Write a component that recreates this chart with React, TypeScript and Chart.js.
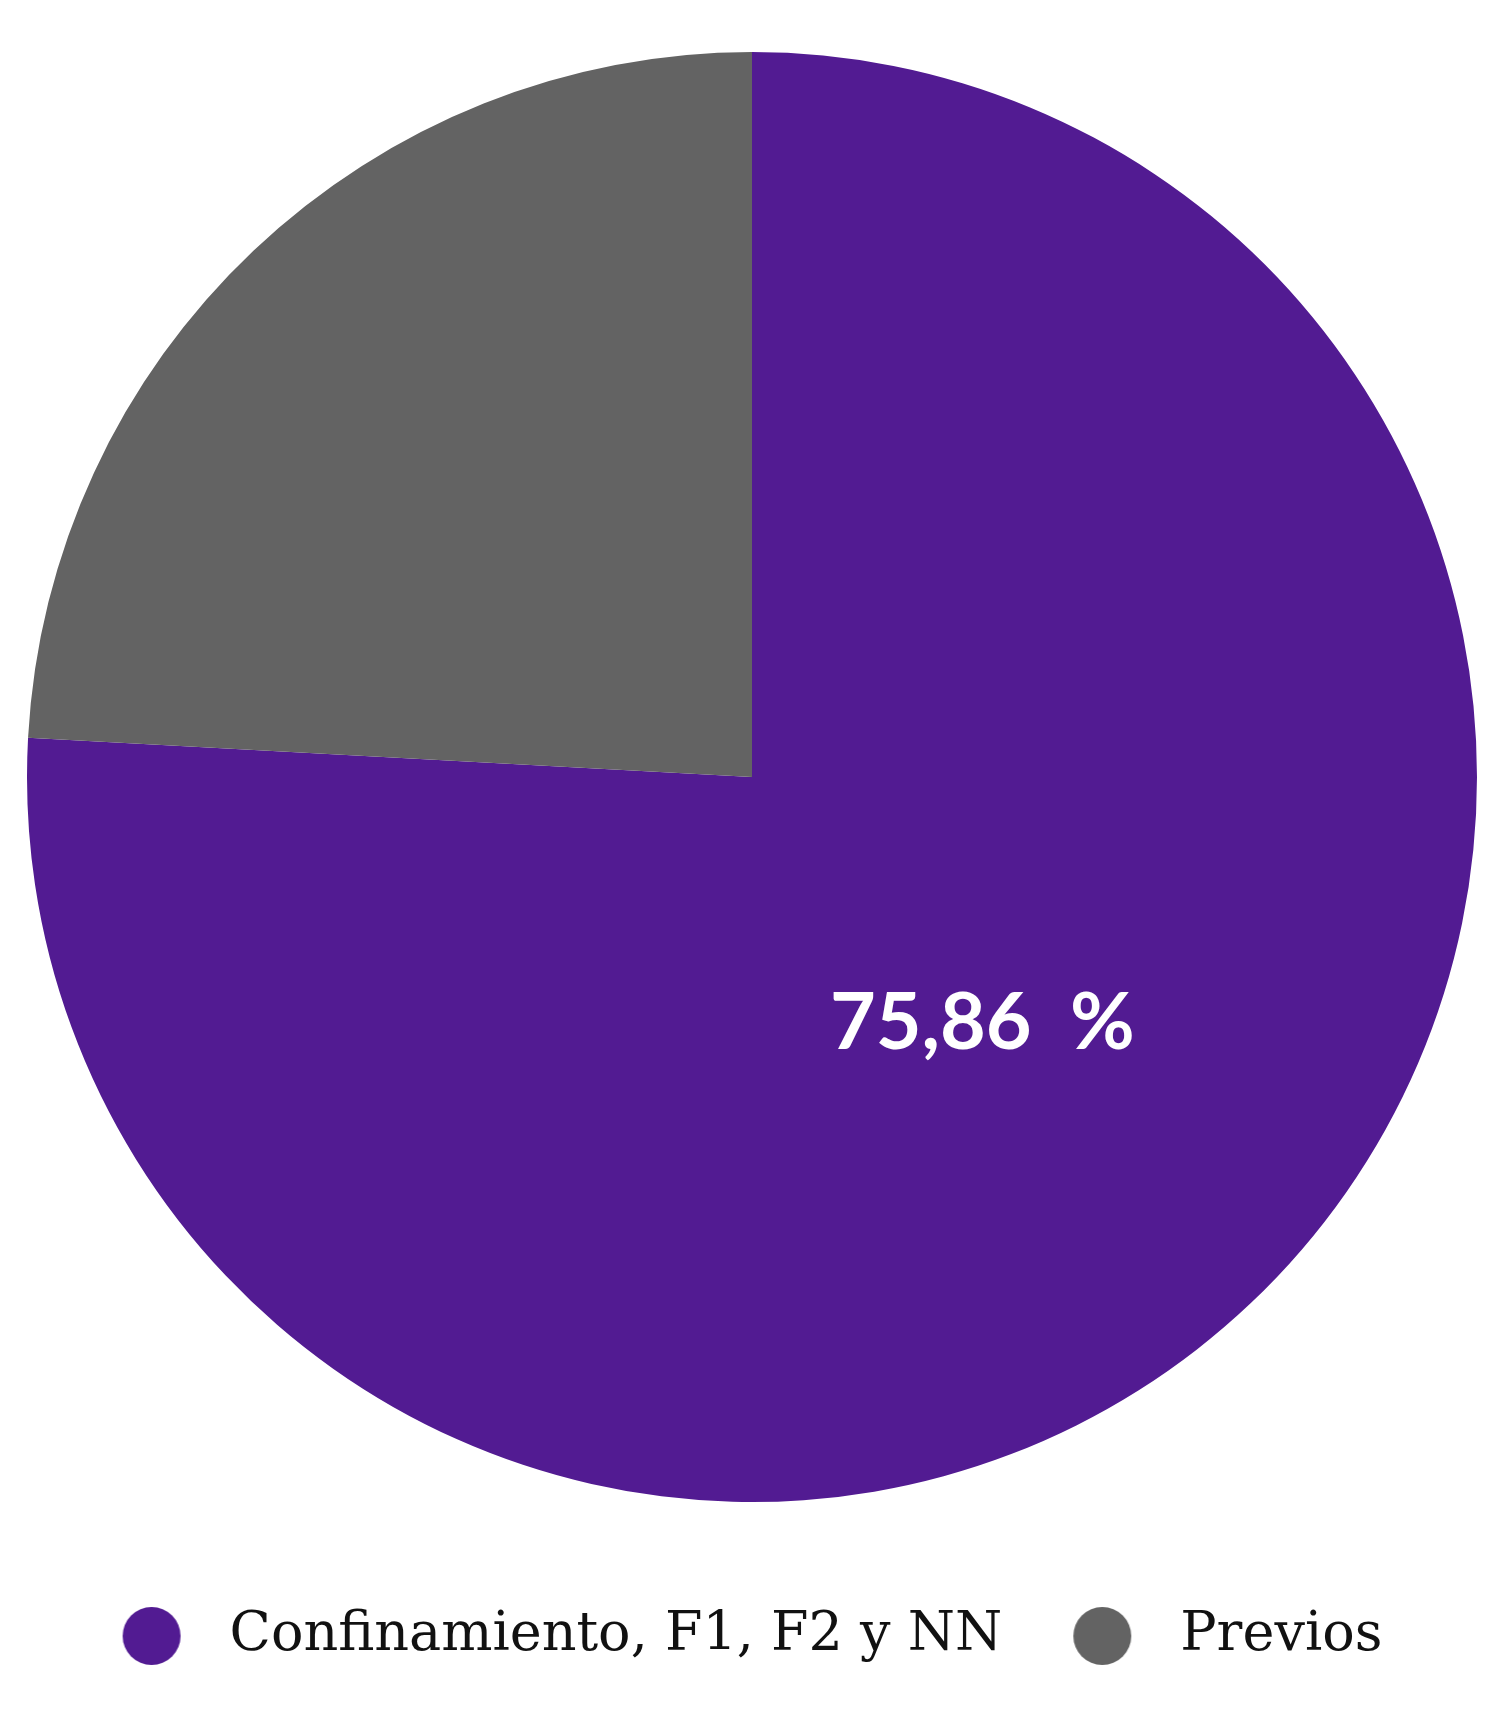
import React, { useEffect, useRef } from "react";
import { Chart, registerables } from "chart.js";

Chart.register(...registerables);

const categories = ["Confinamiento, F1, F2 y NN", "Previos"];
const values = [75.86, 24.14];
const colors = ["#521b92", "#636363"];
const labelTexts = ["75,86  %"];

function makeDot(color: string): HTMLCanvasElement {
  const c = document.createElement("canvas");
  c.width = 81;
  c.height = 64;
  const g = c.getContext("2d")!;
  g.fillStyle = color;
  g.beginPath();
  g.arc(30, 32, 29, 0, Math.PI * 2);
  g.fill();
  return c;
}

const valueLabelPlugin = {
  id: "valueLabel",
  afterDatasetsDraw(chart: any) {
    const meta = chart.getDatasetMeta(0);
    const ctx = chart.ctx;
    labelTexts.forEach((t, i) => {
      const arc = meta.data[i];
      if (!arc) return;
      const p = arc.getProps(["x", "y", "startAngle", "endAngle", "outerRadius"], true);
      const mid = (p.startAngle + p.endAngle) / 2;
      const r = p.outerRadius * 0.468;
      ctx.save();
      ctx.fillStyle = "#ffffff";
      ctx.font = "bold 79px Lato";
      ctx.textAlign = "center";
      ctx.textBaseline = "middle";
      ctx.fillText(t, p.x + Math.cos(mid) * r - 3, p.y + Math.sin(mid) * r);
      ctx.restore();
    });
  },
};

export default function App() {
  const ref = useRef<HTMLCanvasElement | null>(null);
  useEffect(() => {
    if (!ref.current) return;
    const dots = colors.map(makeDot);
    const chart = new Chart(ref.current, {
      type: "pie",
      data: {
        labels: categories,
        datasets: [
          {
            data: values,
            backgroundColor: colors,
            borderWidth: 0,
          },
        ],
      },
      options: {
        animation: false,
        responsive: true,
        maintainAspectRatio: false,
        layout: { padding: { left: 19, right: 15, top: 7, bottom: 32 } },
        plugins: {
          tooltip: { enabled: false },
          legend: {
            position: "bottom",
            labels: {
              usePointStyle: true,
              pointStyleWidth: 81,
              padding: 70,
              color: "#111111",
              font: { family: "DejaVu Serif", size: 54 },
              generateLabels: (ch: any) =>
                ch.data.labels.map((l: string, i: number) => ({
                  text: l,
                  fillStyle: colors[i],
                  strokeStyle: colors[i],
                  lineWidth: 0,
                  pointStyle: dots[i],
                  fontColor: "#111111",
                  hidden: false,
                  index: i,
                })),
            },
          },
        },
      } as any,
      plugins: [valueLabelPlugin],
    });
    return () => chart.destroy();
  }, []);
  return (
    <div style={{ position: "relative", width: "100%", height: 1697 }}>
      <canvas ref={ref} />
    </div>
  );
}
